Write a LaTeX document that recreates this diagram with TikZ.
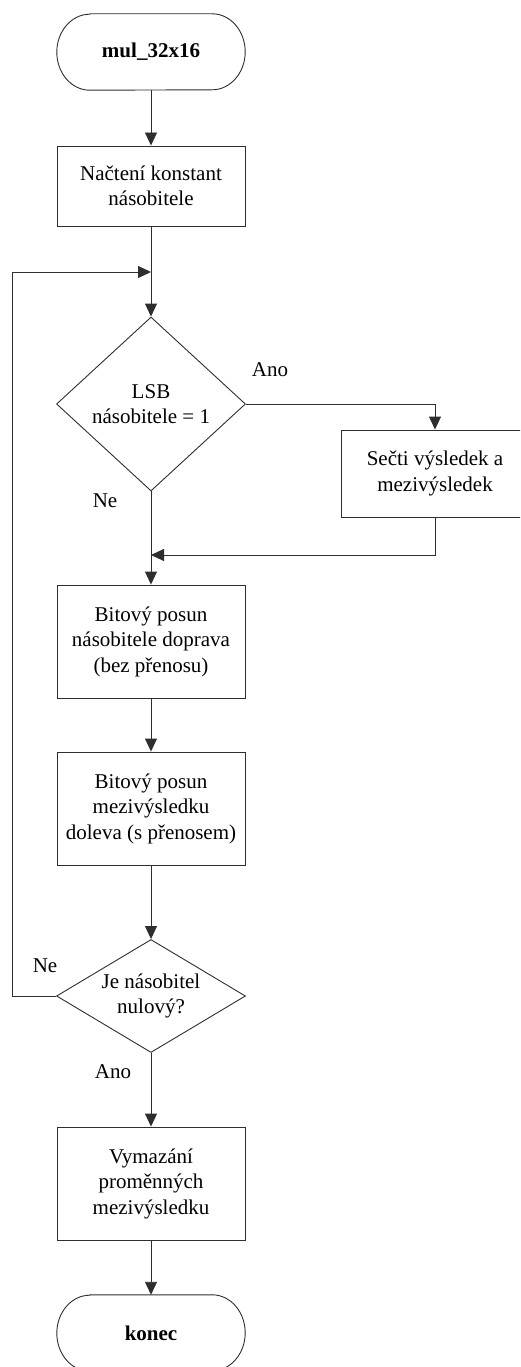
\documentclass[tikz,border=0pt]{standalone}
\usepackage{fontspec}
\setmainfont{Liberation Serif}
\usetikzlibrary{shapes.geometric,arrows.meta}

\begin{document}
\begin{tikzpicture}[x=1pt,y=-1pt,
  line/.style={draw=black!82, line width=0.9pt},
  arr/.style={line, -{Triangle[length=13pt,width=12pt]}},
  txt/.style={font=\fontsize{21}{25.5}\selectfont, align=center},
  procbox/.style={txt, line, rectangle, minimum width=188pt, inner sep=0pt},
  decision/.style={txt, line, diamond, inner sep=0pt, minimum width=189pt},
  terminal/.style={txt, font=\fontsize{21}{26}\selectfont\bfseries, minimum width=188pt, minimum height=76pt, inner sep=0pt},
  lbl/.style={font=\fontsize{21}{26}\selectfont, anchor=base, inner sep=0pt}]

\useasboundingbox (0,0) rectangle (520,1367);
\clip (0,0) rectangle (520,1367);

% terminal outline: straight top/bottom with elliptic ends
\def\termpath#1{%
  \draw[line] ([xshift=33pt]#1.north west) -- ([xshift=-33pt]#1.north east)
    arc[start angle=90, end angle=-90, x radius=33pt, y radius=38pt]
    -- ([xshift=33pt]#1.south west)
    arc[start angle=270, end angle=90, x radius=33pt, y radius=38pt] -- cycle;}

% nodes
\node[terminal] (start) at (151,52) {mul\_32x16};
\termpath{start}
\node[procbox, minimum height=80pt] (load) at (151,186) {Načtení konstant\\násobitele};
\node[decision, aspect=1.09, minimum height=174pt] (lsb) at (151,404) {LSB\\násobitele = 1};
\node[procbox, minimum height=87pt] (add) at (435,473.5) {Sečti výsledek a\\mezivýsledek};
\node[procbox, minimum height=113pt] (shr) at (151,641.5) {Bitový posun\\násobitele doprava\\(bez přenosu)};
\node[procbox, minimum height=113pt] (shl) at (151,808.5) {Bitový posun\\mezivýsledku\\doleva (s přenosem)};
\node[decision, aspect=1.67, minimum height=113pt] (zero) at (151,996) {Je násobitel\\nulový?};
\node[procbox, minimum height=113pt] (clr) at (151,1183.5) {Vymazání\\proměnných\\mezivýsledku};
\node[terminal] (stop) at (151,1333) {konec};
\termpath{stop}

% branch labels
\node[lbl] (yes1) at (270,376) {Ano};
\node[lbl] (no1) at (105,507) {Ne};
\node[lbl] (no2) at (45,972) {Ne};
\node[lbl] (yes2) at (113,1078) {Ano};

% junction points on the main column
\coordinate (loopin) at (151,272);
\coordinate (merge) at (151,555);
\coordinate (loopx) at (12,996);

% connectors
\draw[arr] (start.south) -- (load.north);
\draw[arr] (load.south) -- (lsb.north);
\draw[arr] (lsb.east) -| (add.north);
\draw[arr] (add.south) |- (merge);
\draw[arr] (lsb.south) -- (shr.north);
\draw[arr] (shr.south) -- (shl.north);
\draw[arr] (shl.south) -- (zero.north);
\draw[arr] (zero.west) -- (loopx) |- (loopin);
\draw[arr] (zero.south) -- (clr.north);
\draw[arr] (clr.south) -- (stop.north);
\end{tikzpicture}
\end{document}
